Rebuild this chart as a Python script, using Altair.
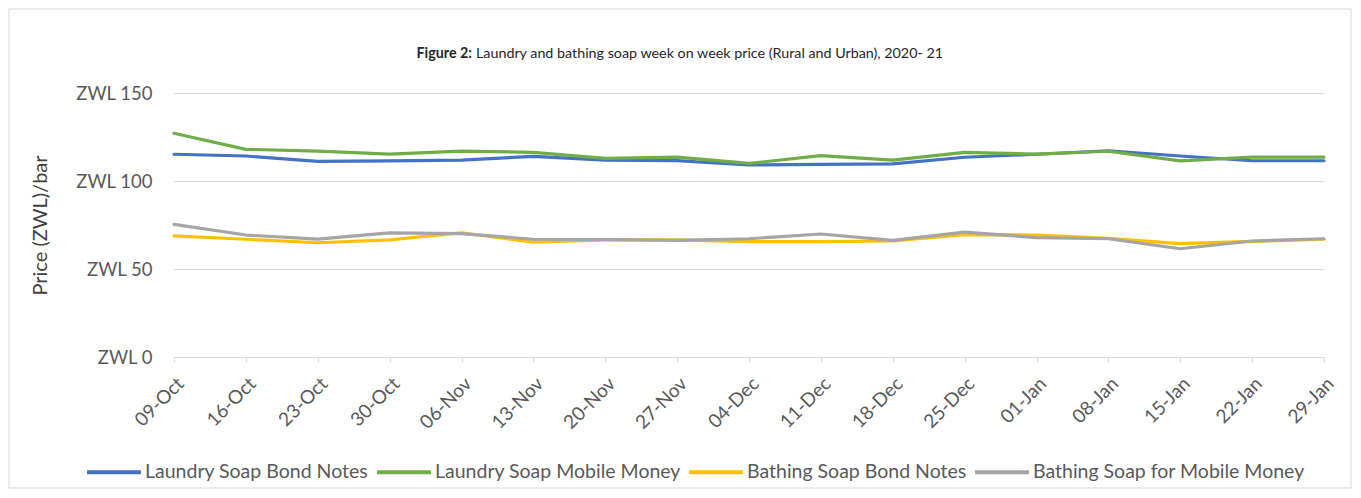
import altair as alt
import pandas as pd

dates = ["09-Oct", "16-Oct", "23-Oct", "30-Oct", "06-Nov", "13-Nov", "20-Nov", "27-Nov",
         "04-Dec", "11-Dec", "18-Dec", "25-Dec", "01-Jan", "08-Jan", "15-Jan", "22-Jan", "29-Jan"]

series_names = ["Laundry Soap Bond Notes", "Laundry Soap Mobile Money",
                "Bathing Soap Bond Notes", "Bathing Soap for Mobile Money"]
series_colors = ["#4472C4", "#70AD47", "#FFC000", "#A5A5A5"]

laundry_bond = [115.2, 114.2, 111.2, 111.4, 111.9, 114.0, 111.9, 111.6, 109.1,
                109.5, 109.7, 113.5, 115.2, 117.2, 114.2, 111.5, 111.5]
laundry_mobile = [127.1, 118.0, 117.0, 115.3, 117.0, 116.3, 112.9, 113.6, 110.0,
                  114.4, 111.9, 116.3, 115.3, 116.9, 111.4, 113.6, 113.6]
bathing_bond = [68.8, 66.9, 64.9, 66.5, 70.6, 65.3, 66.5, 66.5, 65.5,
                65.5, 65.9, 69.5, 69.3, 67.4, 64.4, 65.7, 66.9]
bathing_mobile = [75.4, 69.3, 67.0, 70.5, 70.1, 66.9, 66.7, 66.3, 67.2,
                  69.9, 66.3, 71.0, 67.8, 67.2, 61.5, 65.9, 67.2]

title_bold = "Figure 2:"
title_rest = "Laundry and bathing soap week on week price (Rural and Urban), 2020- 21"
y_title = "Price (ZWL)/bar"
y_ticks = [0, 50, 100, 150]

rows = []
for name, vals in zip(series_names, [laundry_bond, laundry_mobile, bathing_bond, bathing_mobile]):
    for i, (d, v) in enumerate(zip(dates, vals)):
        rows.append({"date": d, "idx": i, "series": name, "price": v})
df = pd.DataFrame(rows)

W, H = 1160, 264
FONT = "Lato"

lines = alt.Chart(df).mark_line(strokeWidth=3.2, strokeCap="round", strokeJoin="round").encode(
    x=alt.X("date:O", sort=dates,
            scale=alt.Scale(type="point", range=[2, 1152], padding=0),
            axis=alt.Axis(title=None, labelAngle=-45, labelFontSize=19, labelColor="#595959",
                          labelFont=FONT, domain=False, ticks=True, tickColor="#d9d9d9",
                          tickSize=5, labelPadding=12, labelOffset=0, grid=False)),
    y=alt.Y("price:Q", scale=alt.Scale(domain=[0, 150], nice=False),
            axis=alt.Axis(values=y_ticks, labelExpr="'ZWL ' + datum.value", title=y_title,
                          titleFontSize=20, titleFont=FONT, titleFontWeight="normal",
                          titleColor="#404040", titleX=-132, titleY=H / 2, titleAngle=-90,
                          titleAlign="center", titleBaseline="middle",
                          labelFontSize=18.5, labelFont=FONT, labelColor="#595959",
                          labelPadding=20, domain=False, ticks=False, grid=True,
                          gridColor="#d9d9d9", gridWidth=1.2)),
    color=alt.Color("series:N", sort=series_names,
                    scale=alt.Scale(domain=series_names, range=series_colors),
                    legend=alt.Legend(title=None, orient="none", direction="horizontal",
                                      legendX=-87, legendY=350, symbolType="stroke",
                                      symbolSize=2900, symbolStrokeWidth=4,
                                      labelFontSize=19.5, labelFont=FONT, labelColor="#595959",
                                      labelLimit=0, columnPadding=0, labelOffset=2, columns=4)),
    detail="series:N",
    order=alt.Order("idx:Q"),
)

tdf = pd.DataFrame({"a": [title_bold], "b": [title_rest]})
t_bold = alt.Chart(tdf).mark_text(align="right", baseline="middle", fontSize=14.3, font=FONT,
                                  fontWeight="bold", color="#262626").encode(
    x=alt.value(300), y=alt.value(-39), text="a:N")
t_rest = alt.Chart(tdf).mark_text(align="left", baseline="middle", fontSize=14.3, font=FONT,
                                  color="#262626").encode(
    x=alt.value(304), y=alt.value(-39), text="b:N")

border = alt.Chart(tdf).mark_rect(fill=None, filled=False, stroke="#d9d9d9", strokeWidth=1).encode(
    x=alt.value(-163), x2=alt.value(1179), y=alt.value(-84), y2=alt.value(395))

chart = alt.layer(border, lines, t_bold, t_rest).properties(
    width=W, height=H,
    autosize=alt.AutoSizeParams(type="none"),
    padding={"left": 164, "top": 85, "right": 21, "bottom": 132},
).configure_view(stroke=None)

chart.save("out.html", embed_options={"renderer": "svg", "actions": False})
